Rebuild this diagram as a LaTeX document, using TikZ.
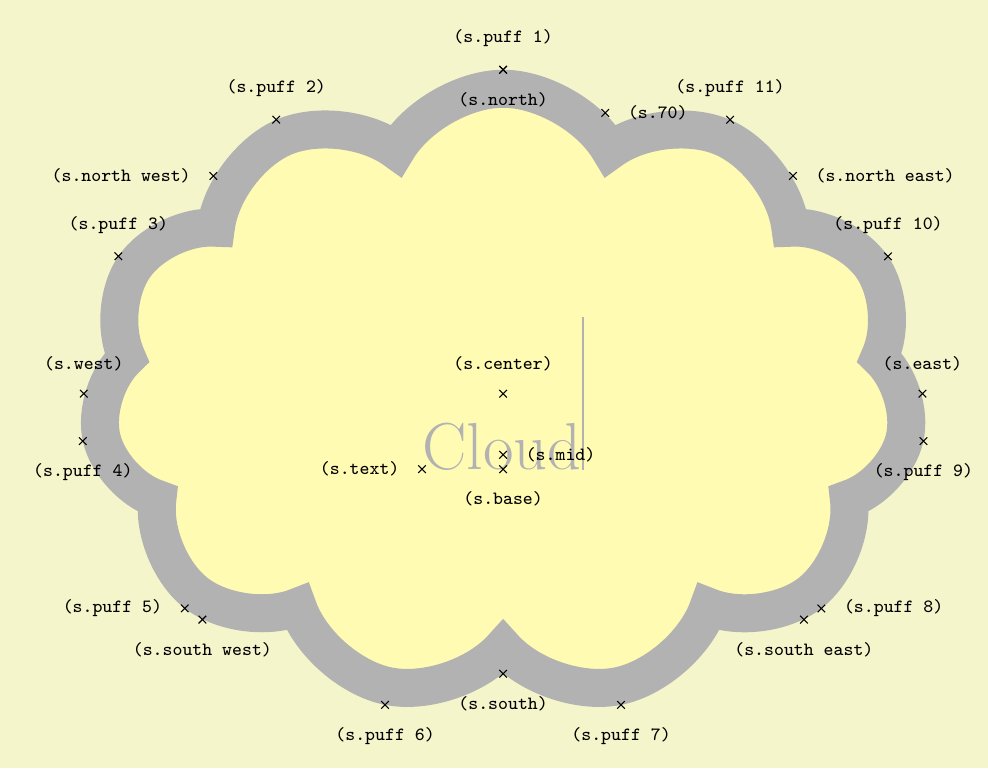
\documentclass[tikz,border=0pt]{standalone}
\usetikzlibrary{shapes.symbols}
\definecolor{graphicbackground}{rgb}{0.96,0.96,0.8}
\tikzset{
  shape example/.style={color=black!30,draw,fill=yellow!30,line width=.5cm,
    inner xsep=2.47cm,inner ysep=0.5cm}
}
\begin{document}
\Huge
\begin{tikzpicture}
  % background
  \fill[graphicbackground] (-6.62,-4.93) rectangle (6.38,5.18);
  \useasboundingbox (-6.62,-4.93) rectangle (6.38,5.18);

  % cloud
  \node[name=s,shape=cloud,style=shape example,cloud puffs=11,aspect=1.5,
    cloud puff arc=120,inner ysep=1.18cm] {Cloud\vrule width 1pt height 2cm};

  % anchors
  \foreach \anchor/\placement in
    {puff 1/above, puff 2/above, puff 3/above, puff 4/below,
     puff 5/left, puff 6/below, puff 7/below, puff 8/right,
     puff 9/below, puff 10/above, puff 11/above, 70/right,
     center/above, base/below, mid/right, text/left,
     north/below, south/below, east/above, west/above,
     north west/left, north east/right, south west/below, south east/below}
    \draw[shift=(s.\anchor)] plot[mark=x] coordinates{(0,0)}
      node[\placement] {\scriptsize\texttt{(s.\anchor)}};
\end{tikzpicture}
\end{document}
